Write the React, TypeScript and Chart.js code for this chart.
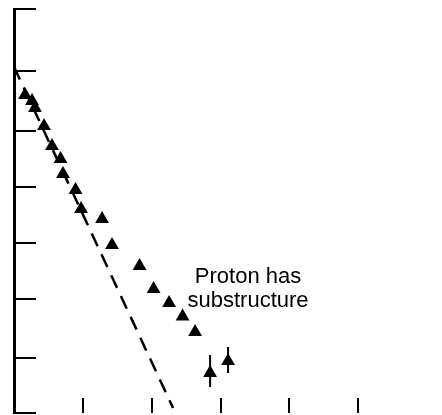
import React, { useEffect, useRef } from "react";
import { Chart, registerables } from "chart.js";

Chart.register(...registerables);

// Axis tick positions (no labels in the original figure)
const xTickValues = [1, 2, 3, 4, 5];
const yTickValues = [0, 0.953, 1.976, 2.946, 3.917, 4.887, 5.927, 7];

// Measured points (triangles)
const pointX = [0.16, 0.262, 0.305, 0.436, 0.552, 0.676, 0.712, 0.894, 0.974, 1.279, 1.424, 1.824, 2.028, 2.253, 2.449, 2.631, 2.849, 3.11];
const pointY = [5.511, 5.407, 5.286, 4.974, 4.627, 4.402, 4.142, 3.865, 3.536, 3.362, 2.912, 2.548, 2.149, 1.906, 1.672, 1.404, 0.693, 0.901];

// Error bars
const errX = [2.849, 3.11];
const errLow = [0.451, 0.693];
const errHigh = [1.005, 1.144];

// Dashed expectation line (point-like proton)
const lineX = [0, 2.311];
const lineY = [6.0, 0.087];

// Annotation
const labelLines = ["Proton has", "substructure"];
const labelX = 3.4;
const labelY = [2.258, 1.832];

const labelPlugin = {
  id: "labelPlugin",
  afterDatasetsDraw(chart: any) {
    const { ctx, scales } = chart;
    const x = scales.x;
    const y = scales.y;
    ctx.save();
    ctx.fillStyle = "#000";
    ctx.font = '22px "Liberation Sans", Arial, sans-serif';
    ctx.textAlign = "center";
    ctx.textBaseline = "alphabetic";
    labelLines.forEach((t, i) => {
      ctx.fillText(t, x.getPixelForValue(labelX), y.getPixelForValue(labelY[i]));
    });
    ctx.restore();
  },
};

export default function App() {
  const ref = useRef<HTMLCanvasElement | null>(null);

  useEffect(() => {
    document.body.style.margin = "0";
    const canvas = ref.current;
    if (!canvas) return;

    const errorDatasets = errX.map((xv, i) => ({
      type: "line" as const,
      data: [
        { x: xv, y: errLow[i] },
        { x: xv, y: errHigh[i] },
      ],
      borderColor: "#000",
      borderWidth: 2,
      pointRadius: 0,
      fill: false,
    }));

    const chart = new Chart(canvas, {
      type: "scatter",
      data: {
        datasets: [
          {
            type: "line",
            data: lineX.map((xv, i) => ({ x: xv, y: lineY[i] })),
            borderColor: "#000",
            borderWidth: 2.5,
            borderDash: [14, 9],
            pointRadius: 0,
            fill: false,
          } as any,
          ...errorDatasets,
          {
            type: "scatter",
            data: pointX.map((xv, i) => ({ x: xv, y: pointY[i] })),
            pointStyle: "triangle",
            pointRadius: 8,
            pointBackgroundColor: "#000",
            pointBorderWidth: 0,
            pointBorderColor: "#000",
          } as any,
        ],
      },
      options: {
        animation: false,
        responsive: false,
        maintainAspectRatio: false,
        layout: { autoPadding: false, padding: { left: 14, top: 9, right: 15, bottom: 2 } },
        plugins: { legend: { display: false }, tooltip: { enabled: false } },
        scales: {
          x: {
            type: "linear",
            position: "bottom",
            min: 0,
            max: 6,
            afterBuildTicks: (s: any) => {
              s.ticks = xTickValues.map((v) => ({ value: v }));
            },
            afterFit: (s: any) => {
              s.height = 0;
            },
            ticks: { display: false },
            border: { display: false },
            grid: {
              drawOnChartArea: false,
              drawTicks: true,
              tickLength: -15,
              color: "#000",
              lineWidth: 2,
            },
          },
          y: {
            type: "linear",
            position: "left",
            min: 0,
            max: 7,
            afterBuildTicks: (s: any) => {
              s.ticks = yTickValues.map((v) => ({ value: v }));
            },
            afterFit: (s: any) => {
              s.width = 0;
            },
            ticks: { display: false },
            border: { display: true, color: "#000", width: 3 },
            grid: {
              drawOnChartArea: false,
              drawTicks: true,
              tickLength: -22,
              color: "#000",
              lineWidth: 2,
            },
          },
        },
      } as any,
      plugins: [labelPlugin],
    });

    return () => chart.destroy();
  }, []);

  return (
    <div style={{ width: 442, height: 415 }}>
      <canvas ref={ref} width={442} height={415} style={{ display: "block" }} />
    </div>
  );
}
